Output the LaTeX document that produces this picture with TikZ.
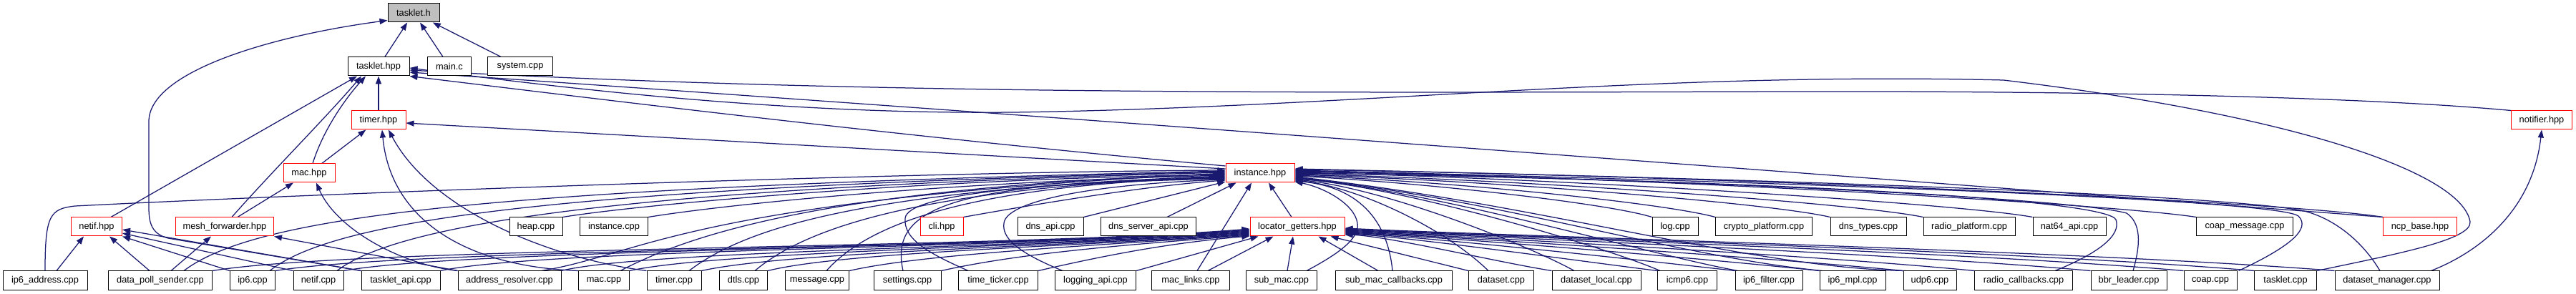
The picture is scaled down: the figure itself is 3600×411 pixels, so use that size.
\documentclass[tikz,border=0pt]{standalone}
\usepackage{fontspec}
\setmainfont{Liberation Sans}
\usetikzlibrary{arrows.meta,calc}
\definecolor{edgec}{HTML}{191970}
\definecolor{redb}{HTML}{FF0000}
\definecolor{grayf}{HTML}{BFBFBF}
\pgfdeclarelayer{bg}
\pgfdeclarelayer{edges}
\pgfsetlayers{bg,edges,main}
\begin{document}
\begin{tikzpicture}[x=1pt,y=-1pt,
 box/.style={draw=black, fill=white, line width=1pt, minimum height=26pt, inner sep=0pt, font=\fontsize{12.8}{15}\selectfont},
 rbox/.style={box, draw=redb},
 gbox/.style={box, fill=grayf},
 edge/.style={draw=edgec, line width=1.25pt, -{Triangle[length=11pt,width=8pt]}}]
\begin{pgfonlayer}{bg}
\fill[white] (0,0) rectangle (3600,411);
\end{pgfonlayer}
\useasboundingbox (0,0) rectangle (3600,411);
% row 0
\node[gbox, minimum width=72pt] (th) at (578,18) {tasklet.h};
% row 1
\node[box, minimum width=86pt] (thpp) at (529,93) {tasklet.hpp};
\node[box, minimum width=61pt] (mainc) at (628,93) {main.c};
\node[box, minimum width=91pt] (syscpp) at (727,93) {system.cpp};
% row 2
\node[rbox, minimum width=76pt] (timer) at (529,168) {timer.hpp};
\node[rbox, minimum width=85pt] (notifier) at (3552,168) {notifier.hpp};
% row 3
\node[rbox, minimum width=72pt] (mach) at (432,242) {mac.hpp};
\node[rbox, minimum width=96pt] (inst) at (1761,242) {instance.hpp};
% row 4
\node[rbox, minimum width=71pt] (netifh) at (135,317) {netif.hpp};
\node[rbox, minimum width=137pt] (meshf) at (314,317) {mesh\_forwarder.hpp};
\node[box, minimum width=74pt] (heap) at (749,317) {heap.cpp};
\node[box, minimum width=95pt] (instcpp) at (858,317) {instance.cpp};
\node[rbox, minimum width=60pt] (cli) at (1316,317) {cli.hpp};
\node[box, minimum width=92pt] (dnsapi) at (1468,317) {dns\_api.cpp};
\node[box, minimum width=133pt] (dnssrv) at (1605,317) {dns\_server\_api.cpp};
\node[rbox, minimum width=132pt] (loc) at (1813,317) {locator\_getters.hpp};
\node[box, minimum width=64pt] (logcpp) at (2341,317) {log.cpp};
\node[box, minimum width=135pt] (crypto) at (2465,317) {crypto\_platform.cpp};
\node[box, minimum width=106pt] (dnstypes) at (2611,317) {dns\_types.cpp};
\node[box, minimum width=128pt] (radioplat) at (2752,317) {radio\_platform.cpp};
\node[box, minimum width=102pt] (nat64) at (2892,317) {nat64\_api.cpp};
\node[box, minimum width=135pt] (coapmsg) at (3137,317) {coap\_message.cpp};
\node[rbox, minimum width=103pt] (ncp) at (3382,317) {ncp\_base.hpp};
% row 5
\node[box, minimum width=118pt] (ip6addr) at (63,392) {ip6\_address.cpp};
\node[box, minimum width=145pt] (dps) at (224,392) {data\_poll\_sender.cpp};
\node[box, minimum width=63pt] (ip6cpp) at (353,392) {ip6.cpp};
\node[box, minimum width=70pt] (netifcpp) at (445,392) {netif.cpp};
\node[box, minimum width=110pt] (tapi) at (560,392) {tasklet\_api.cpp};
\node[box, minimum width=144pt] (addrres) at (712,392) {address\_resolver.cpp};
\node[box, minimum width=71pt] (maccpp) at (844,392) {mac.cpp};
\node[box, minimum width=76pt] (timercpp) at (942,392) {timer.cpp};
\node[box, minimum width=67pt] (dtls) at (1039,392) {dtls.cpp};
\node[box, minimum width=89pt] (message) at (1142,392) {message.cpp};
\node[box, minimum width=94pt] (settings) at (1268,392) {settings.cpp};
\node[box, minimum width=111pt] (tticker) at (1395,392) {time\_ticker.cpp};
\node[box, minimum width=113pt] (logapi) at (1531,392) {logging\_api.cpp};
\node[box, minimum width=109pt] (maclinks) at (1664,392) {mac\_links.cpp};
\node[box, minimum width=99pt] (submac) at (1791,392) {sub\_mac.cpp};
\node[box, minimum width=163pt] (submaccb) at (1948,392) {sub\_mac\_callbacks.cpp};
\node[box, minimum width=91pt] (dataset) at (2098,392) {dataset.cpp};
\node[box, minimum width=124pt] (dslocal) at (2231,392) {dataset\_local.cpp};
\node[box, minimum width=83pt] (icmp6) at (2358,392) {icmp6.cpp};
\node[box, minimum width=94pt] (ip6filter) at (2472,392) {ip6\_filter.cpp};
\node[box, minimum width=92pt] (ip6mpl) at (2589,392) {ip6\_mpl.cpp};
\node[box, minimum width=74pt] (udp6) at (2697,392) {udp6.cpp};
\node[box, minimum width=137pt] (radiocb) at (2828,392) {radio\_callbacks.cpp};
\node[box, minimum width=106pt] (bbr) at (2975,392) {bbr\_leader.cpp};
\node[box, minimum width=74pt] (coap) at (3089,392) {coap.cpp};
\node[box, minimum width=87pt] (taskletcpp) at (3194,392) {tasklet.cpp};
\node[box, minimum width=146pt] (dsmgr) at (3336,392) {dataset\_manager.cpp};

\begin{pgfonlayer}{edges}
% ---- tasklet.h
\draw[edge] (thpp) -- (th);
\draw[edge] (mainc) -- (th);
\draw[edge] (syscpp) -- (th);
\draw[edge] (tapi.north west) -- (235,333) .. controls (212,327) and (208,312) .. (208,290) -- (208,170) .. controls (208,100) and (380,50) .. ($(th.south west)+(0,-3)$);
% ---- tasklet.hpp
\draw[edge] (timer) -- (thpp);
\draw[edge] ($(mach.north)+(5,0)$) .. controls (452,180) and (485,135) .. ($(thpp.south)+(-18,0)$);
\draw[edge] ($(meshf.north)+(10,0)$) .. controls (380,240) and (455,165) .. ($(thpp.south)+(-24,0)$);
\draw[edge] ($(netifh.north)+(20,0)$) -- ($(thpp.south)+(-30,0)$);
\draw[edge] ($(inst.west)+(0,-10)$) .. controls (1250,190) and (850,140) .. (thpp.south east);
\draw[edge] (ncp.north west) .. controls (2500,240) and (1300,150) .. ($(thpp.east)+(0,8)$);
\draw[edge] (taskletcpp.north east) .. controls (3350,355) and (3455,335) .. (3452,310) .. controls (3440,240) and (3200,160) .. (2800,112) .. controls (2300,100) and (1900,150) .. (1417,157) .. controls (1100,160) and (800,125) .. ($(thpp.east)+(0,2)$);
\draw[edge] (notifier.north west) .. controls (3300,135) and (2900,127) .. (2500,128) .. controls (1800,130) and (1200,132) .. ($(thpp.east)+(0,5)$);
% ---- timer.hpp
\draw[edge] (mach) -- (timer);
\draw[edge] ($(inst.west)+(0,-6)$) -- ($(timer.east)+(0,4)$);
\draw[edge] (maccpp.north west) .. controls (640,372) and (545,300) .. ($(timer.south)+(5,0)$);
\draw[edge] (timercpp.north west) .. controls (760,360) and (600,290) .. ($(timer.south)+(14,0)$);
% ---- mac.hpp
\draw[edge] ($(meshf.north)+(18,0)$) -- ($(mach.south)+(-22,0)$);
\draw[edge] (addrres.north west) .. controls (560,370) and (470,320) .. ($(mach.south)+(10,0)$);
% ---- netif.hpp / mesh_forwarder.hpp
\draw[edge] ($(ip6addr.north)+(16,0)$) -- ($(netifh.south)+(-18,0)$);
\draw[edge] ($(dps.north)+(-15,0)$) -- ($(netifh.south)+(18,0)$);
\draw[edge] (ip6cpp.north west) -- (netifh.south east);
\draw[edge] (netifcpp.north west) -- ($(netifh.east)+(0,9)$);
\draw[edge] (tapi.north west) -- ($(netifh.east)+(0,4)$);
\draw[edge] ($(dps.north)+(15,0)$) -- ($(meshf.south)+(-19,0)$);
\draw[edge] (addrres.north west) -- (meshf.south east);
% ---- instance.hpp, left side
\draw[edge] (ip6addr.north) .. controls (63,300) and (70,292) .. (105,288) .. controls (500,268) and (1300,240) .. ($(inst.west)+(0,-4)$);
\draw[edge] ($(dps.north)+(33,0)$) .. controls (360,300) and (700,262) .. ($(inst.west)+(0,-3)$);
\draw[edge] ($(ip6cpp.north)+(24,0)$) .. controls (470,305) and (800,262) .. ($(inst.west)+(0,-2)$);
\draw[edge] ($(netifcpp.north)+(26,0)$) .. controls (560,310) and (900,262) .. ($(inst.west)+(0,-1)$);
\draw[edge] ($(addrres.north)+(45,0)$) .. controls (900,355) and (960,280) .. (inst.west);
\draw[edge] ($(maccpp.north)+(23,0)$) .. controls (960,330) and (1150,262) .. ($(inst.west)+(0,1)$);
\draw[edge] (heap.north east) .. controls (900,285) and (1300,250) .. ($(inst.west)+(0,2)$);
\draw[edge] (instcpp.north east) .. controls (1000,288) and (1300,255) .. ($(inst.west)+(0,3)$);
\draw[edge] ($(timercpp.north)+(21,0)$) .. controls (1040,320) and (1200,265) .. ($(inst.west)+(0,4)$);
\draw[edge] ($(dtls.north)+(16,0)$) .. controls (1130,315) and (1300,262) .. ($(inst.west)+(0,5)$);
\draw[edge] ($(message.north)+(13,0)$) .. controls (1220,305) and (1380,258) .. ($(inst.west)+(0,6)$);
\draw[edge] ($(settings.north)+(-6,0)$) .. controls (1242,290) and (1330,255) .. ($(inst.west)+(0,7)$);
\draw[edge] ($(tticker.north west)+(14,0)$) .. controls (1300,355) and (1262,335) .. (1265,305) .. controls (1268,272) and (1450,255) .. ($(inst.west)+(0,8)$);
\draw[edge] ($(logapi.north west)+(11,0)$) .. controls (1420,352) and (1400,332) .. (1403,312) .. controls (1406,282) and (1520,258) .. ($(inst.west)+(0,9)$);
\draw[edge] (cli.north east) .. controls (1450,285) and (1600,260) .. ($(inst.west)+(0,10)$);
\draw[edge] (dnsapi.north east) -- ($(inst.west)+(0,12)$);
\draw[edge] ($(dnssrv.north)+(26,0)$) -- ($(inst.south west)+(15,0)$);
\draw[edge] ($(maclinks.north)+(9,0)$) -- ($(inst.south)+(-12,0)$);
\draw[edge] ($(loc.north)+(-8,0)$) -- ($(inst.south)+(12,0)$);
% ---- locator_getters.hpp, left side
\draw[edge] (dps.north east) .. controls (500,345) and (1400,348) .. ($(loc.west)+(0,3)$);
\draw[edge] (ip6cpp.north east) .. controls (580,347) and (1400,348) .. ($(loc.west)+(0,4)$);
\draw[edge] (netifcpp.north east) .. controls (650,348) and (1410,347) .. ($(loc.west)+(0,5)$);
\draw[edge] (tapi.north east) .. controls (760,348) and (1420,347) .. ($(loc.west)+(0,6)$);
\draw[edge] (addrres.north east) .. controls (900,350) and (1450,346) .. ($(loc.west)+(0,7)$);
\draw[edge] (maccpp.north east) .. controls (1000,352) and (1460,345) .. ($(loc.west)+(0,8)$);
\draw[edge] (timercpp.north east) .. controls (1100,352) and (1480,345) .. ($(loc.west)+(0,9)$);
\draw[edge] (dtls.north east) .. controls (1180,352) and (1500,345) .. ($(loc.west)+(0,10)$);
\draw[edge] (message.north east) .. controls (1290,355) and (1520,344) .. ($(loc.west)+(0,11)$);
\draw[edge] (settings.north east) .. controls (1420,355) and (1560,343) .. ($(loc.west)+(0,12)$);
\draw[edge] (tticker.north east) .. controls (1540,358) and (1630,340) .. ($(loc.west)+(0,13)$);
\draw[edge] (logapi.north east) -- ($(loc.south west)+(12,0)$);
\draw[edge] ($(maclinks.north)+(24,0)$) -- ($(loc.south west)+(33,0)$);
\draw[edge] ($(submac.north)+(8,0)$) -- ($(loc.south)+(-6,0)$);
% ---- locator_getters.hpp, right side
\draw[edge] ($(submaccb.north)+(-22,0)$) -- ($(loc.south east)+(-37,0)$);
\draw[edge] (dataset.north west) -- ($(loc.south east)+(-20,0)$);
\draw[edge] (dslocal.north west) .. controls (2090,366) and (1940,330) .. ($(loc.east)+(0,11)$);
\draw[edge] (icmp6.north west) .. controls (2200,364) and (1960,330) .. ($(loc.east)+(0,10)$);
\draw[edge] (ip6filter.north west) .. controls (2280,362) and (1980,330) .. ($(loc.east)+(0,9)$);
\draw[edge] (ip6mpl.north west) .. controls (2370,360) and (2000,330) .. ($(loc.east)+(0,8)$);
\draw[edge] (udp6.north west) .. controls (2450,358) and (2010,330) .. ($(loc.east)+(0,7)$);
\draw[edge] (radiocb.north west) .. controls (2530,356) and (2030,330) .. ($(loc.east)+(0,6)$);
\draw[edge] (bbr.north west) .. controls (2650,354) and (2050,330) .. ($(loc.east)+(0,5)$);
\draw[edge] (coap.north west) .. controls (2750,352) and (2070,330) .. ($(loc.east)+(0,4)$);
\draw[edge] (taskletcpp.north west) .. controls (2820,350) and (2080,330) .. ($(loc.east)+(0,3)$);
\draw[edge] (dsmgr.north west) .. controls (2900,350) and (2100,330) .. ($(loc.east)+(0,2)$);
% ---- instance.hpp, right side
\draw[edge] ($(submac.north east)+(-15,0)$) .. controls (1880,350) and (1900,330) .. (1897,312) .. controls (1893,285) and (1850,262) .. ($(inst.east)+(0,12)$);
\draw[edge] ($(submaccb.north)+(-2,0)$) .. controls (1940,315) and (1905,262) .. ($(inst.east)+(0,11)$);
\draw[edge] ($(dataset.north)+(-18,0)$) .. controls (2020,320) and (1900,262) .. ($(inst.east)+(0,10)$);
\draw[edge] ($(dslocal.north)+(-31,0)$) .. controls (2130,340) and (1930,262) .. ($(inst.east)+(0,9)$);
\draw[edge] ($(icmp6.north west)+(4,0)$) .. controls (2230,340) and (1950,260) .. ($(inst.east)+(0,8)$);
\draw[edge] ($(ip6filter.north west)+(4,0)$) .. controls (2300,355) and (2020,270) .. ($(inst.east)+(0,7)$);
\draw[edge] ($(ip6mpl.north west)+(4,0)$) .. controls (2350,360) and (2100,280) .. ($(inst.east)+(0,6)$);
\draw[edge] ($(udp6.north west)+(4,0)$) .. controls (2450,375) and (2150,285) .. ($(inst.east)+(0,5)$);
\draw[edge] (logcpp.north west) .. controls (2250,285) and (2000,256) .. ($(inst.east)+(0,4)$);
\draw[edge] (crypto.north west) .. controls (2330,285) and (2050,255) .. ($(inst.east)+(0,3)$);
\draw[edge] (dnstypes.north west) .. controls (2480,285) and (2100,253) .. ($(inst.east)+(0,2)$);
\draw[edge] (radioplat.north west) .. controls (2600,285) and (2150,252) .. ($(inst.east)+(0,1)$);
\draw[edge] ($(radiocb.north)+(44,0)$) .. controls (2930,355) and (2965,330) .. (2957,307) .. controls (2945,283) and (2600,255) .. (inst.east);
\draw[edge] (nat64.north west) .. controls (2740,285) and (2200,250) .. ($(inst.east)+(0,-1)$);
\draw[edge] ($(bbr.north)+(6,0)$) .. controls (2992,340) and (2992,312) .. (2972,298) .. controls (2900,278) and (2400,252) .. ($(inst.east)+(0,-2)$);
\draw[edge] (coapmsg.north west) .. controls (2950,285) and (2300,248) .. ($(inst.east)+(0,-3)$);
\draw[edge] ($(coap.north east)+(2,0)$) .. controls (3200,345) and (3230,320) .. (3212,302) .. controls (3190,285) and (2800,262) .. ($(inst.east)+(0,-4)$);
\draw[edge] (ncp.north west) .. controls (3200,282) and (2400,246) .. ($(inst.east)+(0,-5)$);
\draw[edge] ($(dsmgr.north)+(-10,0)$) .. controls (3300,335) and (3260,305) .. (3220,295) .. controls (3150,280) and (2800,258) .. ($(inst.east)+(0,-6)$);
% ---- notifier.hpp
\draw[edge] ($(dsmgr.north east)+(-12,0)$) .. controls (3470,350) and (3540,290) .. (notifier.south);
\end{pgfonlayer}
\end{tikzpicture}
\end{document}
